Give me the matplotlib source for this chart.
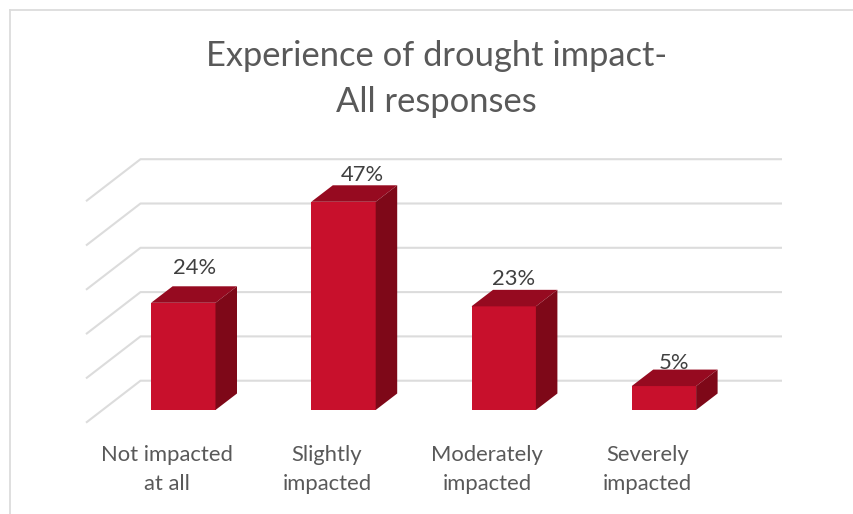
import numpy as np
import matplotlib
matplotlib.use("Agg")
import matplotlib.pyplot as plt

plt.rcParams["font.family"] = ["Lato", "DejaVu Sans"]

# Data
categories = ["Not impacted\nat all", "Slightly\nimpacted", "Moderately\nimpacted", "Severely\nimpacted"]
values = [24.2, 47.0, 23.4, 5.4]
grid_values = [0, 10, 20, 30, 40, 50]
title = "Experience of drought impact-\nAll responses"

# Pixel scale of the axes
W, H = 854, 514
x0_px, x_step = 183.3, 160.2
y0_px, y_step = 410.0, 4.43
px_x = 1 / x_step
px_y = 1 / y_step

fig = plt.figure(figsize=(W / 100, H / 100), dpi=100)
ax = fig.add_axes([0, 0, 1, 1])
ax.set_xlim(-x0_px * px_x, (W - x0_px) * px_x)
ax.set_ylim((y0_px - H) * px_y, y0_px * px_y)
ax.axis("off")

# Chart frame (left and top only show in the crop)
frame = "#dcdcdc"
fig.add_artist(plt.Line2D([10.5 / W, 10.5 / W], [0, 1 - 10 / H], color=frame, lw=1.3))
fig.add_artist(plt.Line2D([10 / W, 1], [1 - 10 / H, 1 - 10 / H], color=frame, lw=1.3))

# Back wall gridlines with the floor diagonal
wall_dy = 29.3 * px_y
left = (140.5 - x0_px) * px_x
right = (782 - x0_px) * px_x
for g in grid_values:
    gy = g + wall_dy
    ax.plot([left - 54.5 * px_x, left, right], [gy - 42 * px_y, gy, gy],
            color="#dcdcdc", lw=1.5, solid_capstyle="butt", zorder=1)

# Bars: front face then top and side faces
xpos = np.arange(len(values))
bar_w = 64.4 * px_x
dx, dy = 21.5 * px_x, 16.5 * px_y
ax.bar(xpos, values, width=bar_w, color="#c8102c", edgecolor="none", zorder=3)
for x, v in zip(xpos, values):
    l, r = x - bar_w / 2, x + bar_w / 2
    ax.fill([l, r, r + dx, l + dx], [v, v, v + dy, v + dy], color="#960a20", lw=0, zorder=3)
    ax.fill([r, r + dx, r + dx, r], [0, dy, v + dy, v], color="#7e0818", lw=0, zorder=3)

# Data labels, placed by hand in the original
label_shift = [(11, 18), (19, 10), (10, 11), (10, 7)]
for x, v, (sx, sy) in zip(xpos, values, label_shift):
    ax.annotate(f"{v:.0f}%", (x, v + dy), xytext=(sx, sy), textcoords="offset pixels",
                ha="center", va="center", fontsize=15.8, color="#404040", zorder=4)

# Category labels
for x, c in zip(xpos, categories):
    ax.text(x - 16.5 * px_x, (y0_px - 469.5) * px_y, c, ha="center", va="center",
            fontsize=15.8, color="#595959", linespacing=1.6)

# Title
ax.text((436.5 - x0_px) * px_x, (y0_px - 79) * px_y, title, ha="center", va="center",
        fontsize=24.8, color="#595959", linespacing=1.5)

fig.savefig("out.png", dpi=100)
